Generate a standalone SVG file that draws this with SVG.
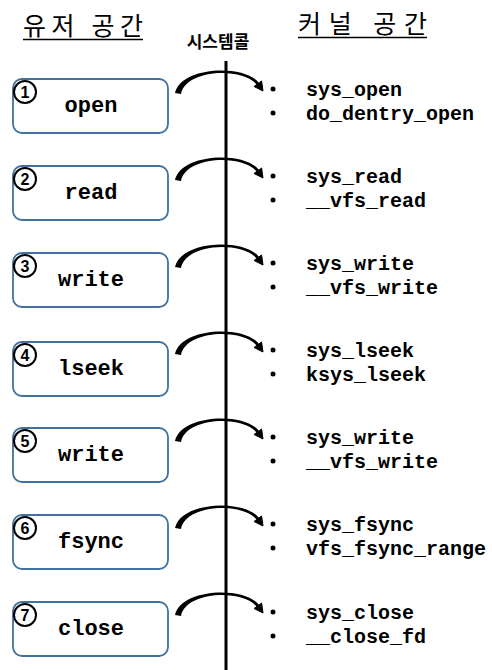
<svg xmlns="http://www.w3.org/2000/svg" xmlns:xlink="http://www.w3.org/1999/xlink" width="492" height="670" viewBox="0 0 492 670">
<style>
.hd{font-family:"Noto Sans CJK KR","Noto Sans",sans-serif;font-size:25px;fill:#000}
.sc{font-family:"Noto Sans CJK KR","Noto Sans",sans-serif;font-size:17px;font-weight:bold;fill:#000}
.box{fill:#fff;stroke:#41719c;stroke-width:1.8}
.num{fill:#fff;stroke:#000;stroke-width:2}
.nt{font-family:"Liberation Sans",Arial,sans-serif;font-size:16px;font-weight:bold;text-anchor:middle;fill:#000}
.lb{font-family:"Liberation Mono","Courier New",monospace;font-size:22px;font-weight:bold;text-anchor:middle;fill:#000}
.k{font-family:"Liberation Mono","Courier New",monospace;font-size:20px;font-weight:bold;fill:#000}
.bl{fill:#000}
</style>
<defs>
<g id="call">
<path d="M175,14 C181,-13 245,-15 259,4 L257,6 C243,-12 186,-10 181,15 Z" fill="#000"/>
<path d="M263,12 L261.6,2 L254,7.5 Z" fill="#000" stroke="#000" stroke-width="1" stroke-linejoin="miter"/>
</g>
</defs>
<rect width="492" height="670" fill="#fff"/>
<g id="headings">
<text class="hd" x="23" y="35" textLength="120" lengthAdjust="spacing">유저  공간</text>
<line x1="23" y1="39.5" x2="143" y2="39.5" stroke="#000" stroke-width="1.5"/>
<text class="hd" x="298" y="33" textLength="129" lengthAdjust="spacing">커널  공간</text>
<line x1="298" y1="37.5" x2="427" y2="37.5" stroke="#000" stroke-width="1.5"/>
<text class="sc" x="218" y="48" text-anchor="middle">시스템콜</text>
</g>
<g id="connectors">
<line x1="226" y1="61" x2="226" y2="670" stroke="#000" stroke-width="3"/>
<use xlink:href="#call" href="#call" y="79"/>
<use xlink:href="#call" href="#call" y="166"/>
<use xlink:href="#call" href="#call" y="253"/>
<use xlink:href="#call" href="#call" y="340"/>
<use xlink:href="#call" href="#call" y="427"/>
<use xlink:href="#call" href="#call" y="514"/>
<use xlink:href="#call" href="#call" y="601"/>
</g>
<g id="n1">
<rect class="box" x="13" y="79" width="155" height="54" rx="9"/>
<circle class="num" cx="25" cy="92" r="11"/><text class="nt" x="25" y="98">1</text>
<text class="lb" x="91" y="112">open</text>
<circle class="bl" cx="273" cy="89" r="2.5"/><text class="k" x="306" y="96">sys_open</text>
<circle class="bl" cx="273" cy="113" r="2.5"/><text class="k" x="306" y="120">do_dentry_open</text>
</g>
<g id="n2">
<rect class="box" x="13" y="166" width="155" height="54" rx="9"/>
<circle class="num" cx="25" cy="179" r="11"/><text class="nt" x="25" y="185">2</text>
<text class="lb" x="91" y="199">read</text>
<circle class="bl" cx="273" cy="176" r="2.5"/><text class="k" x="306" y="183">sys_read</text>
<circle class="bl" cx="273" cy="200" r="2.5"/><text class="k" x="306" y="207">__vfs_read</text>
</g>
<g id="n3">
<rect class="box" x="13" y="253" width="155" height="54" rx="9"/>
<circle class="num" cx="25" cy="266" r="11"/><text class="nt" x="25" y="272">3</text>
<text class="lb" x="91" y="286">write</text>
<circle class="bl" cx="273" cy="263" r="2.5"/><text class="k" x="306" y="270">sys_write</text>
<circle class="bl" cx="273" cy="287" r="2.5"/><text class="k" x="306" y="294">__vfs_write</text>
</g>
<g id="n4">
<rect class="box" x="13" y="342" width="155" height="54" rx="9"/>
<circle class="num" cx="25" cy="355" r="11"/><text class="nt" x="25" y="361">4</text>
<text class="lb" x="91" y="375">lseek</text>
<circle class="bl" cx="273" cy="350" r="2.5"/><text class="k" x="306" y="357">sys_lseek</text>
<circle class="bl" cx="273" cy="374" r="2.5"/><text class="k" x="306" y="381">ksys_lseek</text>
</g>
<g id="n5">
<rect class="box" x="13" y="428" width="155" height="54" rx="9"/>
<circle class="num" cx="25" cy="441" r="11"/><text class="nt" x="25" y="447">5</text>
<text class="lb" x="91" y="461">write</text>
<circle class="bl" cx="273" cy="437" r="2.5"/><text class="k" x="306" y="444">sys_write</text>
<circle class="bl" cx="273" cy="461" r="2.5"/><text class="k" x="306" y="468">__vfs_write</text>
</g>
<g id="n6">
<rect class="box" x="13" y="515" width="155" height="54" rx="9"/>
<circle class="num" cx="25" cy="528" r="11"/><text class="nt" x="25" y="534">6</text>
<text class="lb" x="91" y="548">fsync</text>
<circle class="bl" cx="273" cy="524" r="2.5"/><text class="k" x="306" y="531">sys_fsync</text>
<circle class="bl" cx="273" cy="548" r="2.5"/><text class="k" x="306" y="555">vfs_fsync_range</text>
</g>
<g id="n7">
<rect class="box" x="13" y="602" width="155" height="54" rx="9"/>
<circle class="num" cx="25" cy="615" r="11"/><text class="nt" x="25" y="621">7</text>
<text class="lb" x="91" y="635">close</text>
<circle class="bl" cx="273" cy="612" r="2.5"/><text class="k" x="306" y="619">sys_close</text>
<circle class="bl" cx="273" cy="636" r="2.5"/><text class="k" x="306" y="643">__close_fd</text>
</g>
</svg>
